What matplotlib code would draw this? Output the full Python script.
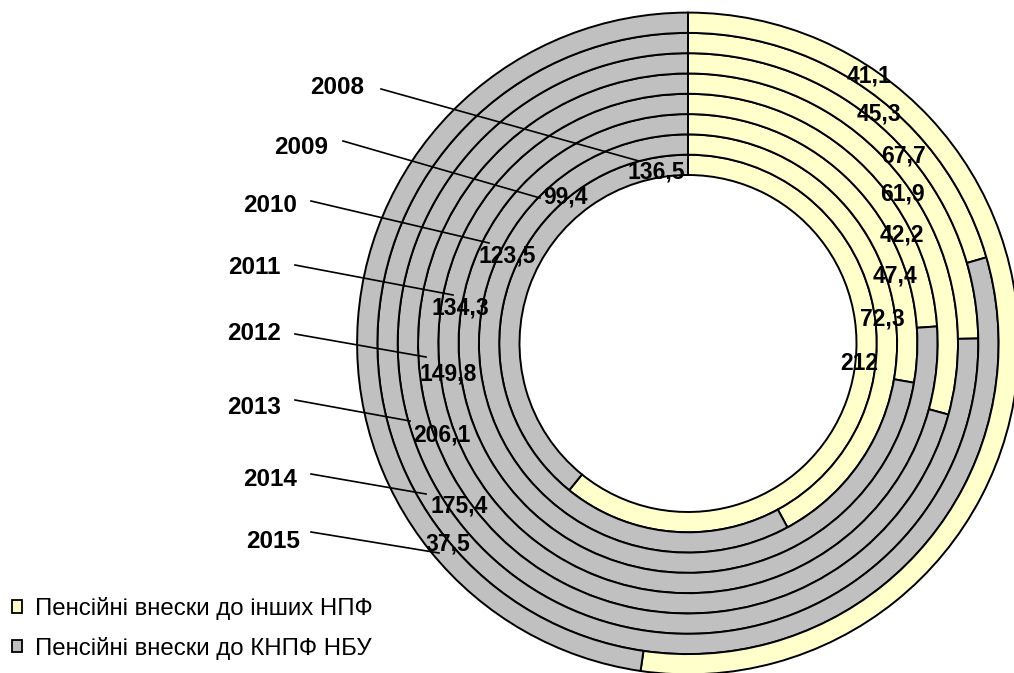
import matplotlib
matplotlib.use("Agg")
import matplotlib.pyplot as plt
from matplotlib.patches import Patch

# Pension contributions by year (mln UAH); ring order: 2008 innermost -> 2015 outermost
years = ["2008", "2009", "2010", "2011", "2012", "2013", "2014", "2015"]
other_npf = [212, 72.3, 47.4, 42.2, 61.9, 67.7, 45.3, 41.1]
knpf_nbu = [136.5, 99.4, 123.5, 134.3, 149.8, 206.1, 175.4, 37.5]
series_names = ["Пенсійні внески до інших НПФ", "Пенсійні внески до КНПФ НБУ"]

YELLOW = "#FFFFCC"
GRAY = "#C0C0C0"

W, H = 1014, 673
plt.rcParams["font.family"] = ["Liberation Sans", "DejaVu Sans"]

fig = plt.figure(figsize=(W / 100, H / 100), dpi=100)
ax = fig.add_axes([0, 0, 1, 1])

cx, cy = 688, H - 343.5
r_hole = 168.5
ring_w = 20.3

for i in range(len(years)):
    ax.pie([other_npf[i], knpf_nbu[i]],
           radius=r_hole + (i + 1) * ring_w,
           center=(cx, cy),
           startangle=90, counterclock=False,
           colors=[YELLOW, GRAY],
           wedgeprops=dict(width=ring_w, edgecolor="black", linewidth=1.4))

ax.set_xlim(0, W)
ax.set_ylim(0, H)
ax.set_aspect("equal")
ax.axis("off")


def fmt(v):
    return f"{v:g}".replace(".", ",")


# label placement (pixel positions, top-left origin)
other_pos = [(859, 363), (882, 319), (895, 276), (902, 235),
             (902, 194), (904, 156), (879, 114), (869, 76)]
knpf_pos = [(656, 172), (565, 197), (507, 256), (460, 308),
            (448, 374), (442, 435), (459, 506), (448, 544)]
year_pos = [(337, 88), (301, 147), (270, 205), (254, 268),
            (254, 334), (254, 408), (270, 480), (273, 542)]
leader = [((381, 89), (639, 161)), ((343, 141), (540, 198)),
          ((311, 201), (489, 243)), ((295, 265), (453, 295)),
          ((295, 334), (426, 357)), ((295, 400), (410, 421)),
          ((311, 474), (426, 494)), ((311, 532), (439, 553))]

for v, (x, y) in zip(other_npf, other_pos):
    ax.text(x, H - y, fmt(v), ha="center", va="center",
            fontsize=16.5, fontweight="bold")
for v, (x, y) in zip(knpf_nbu, knpf_pos):
    ax.text(x, H - y, fmt(v), ha="center", va="center",
            fontsize=16.5, fontweight="bold")
for yr, (x, y), ((x0, y0), (x1, y1)) in zip(years, year_pos, leader):
    ax.text(x, H - y, yr, ha="center", va="center",
            fontsize=17.5, fontweight="bold")
    ax.plot([x0, x1], [H - y0, H - y1], color="black", linewidth=1.2)

handles = [Patch(facecolor=YELLOW, edgecolor="black", linewidth=1.3),
           Patch(facecolor=GRAY, edgecolor="black", linewidth=1.3)]
ax.legend(handles, series_names, loc="upper left",
          bbox_to_anchor=(12, H - 597), bbox_transform=ax.transData,
          frameon=False, fontsize=17.3, borderpad=0, borderaxespad=0,
          handlelength=0.42, handleheight=0.42,
          handletextpad=0.55, labelspacing=0.7)

fig.savefig("out.png", dpi=100)
